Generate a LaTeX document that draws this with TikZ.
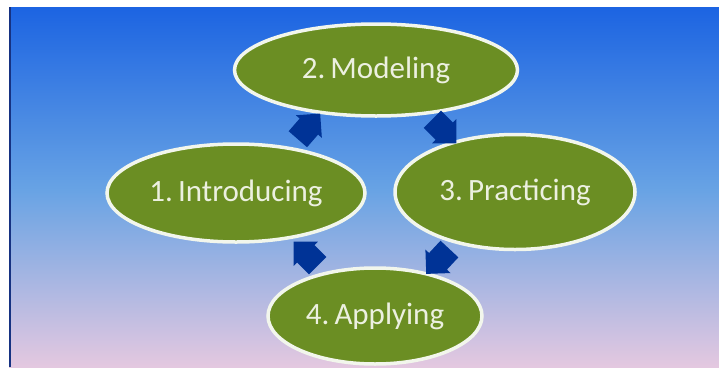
\documentclass[tikz,border=0pt]{standalone}
\usepackage{fontspec}
\setmainfont{Carlito}
\usepackage{tikz}
\definecolor{olive}{RGB}{107, 142, 35}
\definecolor{rim}{RGB}{242, 246, 236}
\definecolor{txt}{RGB}{236, 240, 224}
\definecolor{arrowblue}{RGB}{0, 51, 150}
\definecolor{bgtop}{RGB}{28, 100, 226}
\definecolor{bgmid}{RGB}{104, 163, 228}
\definecolor{bgbot}{RGB}{228, 200, 224}
\definecolor{edge}{RGB}{22, 50, 130}
\usetikzlibrary{shapes.geometric}
\usetikzlibrary{shapes.arrows}

\begin{document}
\begin{tikzpicture}
[stage/.style={ellipse, inner sep=0pt, fill=olive, line width=3.5pt, draw=rim, text=txt, font=\fontsize{31}{33}\selectfont},
 turn/.style={single arrow, inner xsep=3pt, inner ysep=12pt, minimum height=34pt, single arrow head extend=5pt, fill=arrowblue}]
\useasboundingbox (0pt, 0pt) rectangle (719pt, -367pt);
% backdrop, two bands
\shade [top color=bgtop, bottom color=bgmid] (9pt, -7pt) rectangle (719pt, -190pt);
\shade [top color=bgmid, bottom color=bgbot] (9pt, -190pt) rectangle (719pt, -367pt);
\fill [edge] (9pt, -7pt) rectangle (11pt, -367pt);
\node (1) [stage, minimum width=258pt, minimum height=98pt] at (236pt, -193pt) {1.\,Introducing};
\node (2) [stage, minimum width=283pt, minimum height=92pt] at (376pt, -70pt) {2.\,Modeling};
\node (3) [stage, minimum width=240pt, minimum height=115pt] at (515pt, -192pt) {3.\,Practicing};
\node (4) [stage, minimum width=214pt, minimum height=96pt] at (375pt, -316pt) {4.\,Applying};
\node (a12) [turn, rotate=49] at (305pt, -131pt) {};
\node (a23) [turn, rotate=-45] at (440pt, -127pt) {};
\node (a34) [turn, rotate=-133] at (442pt, -257pt) {};
\node (a41) [turn, rotate=135] at (310pt, -258pt) {};
\end{tikzpicture}
\end{document}
